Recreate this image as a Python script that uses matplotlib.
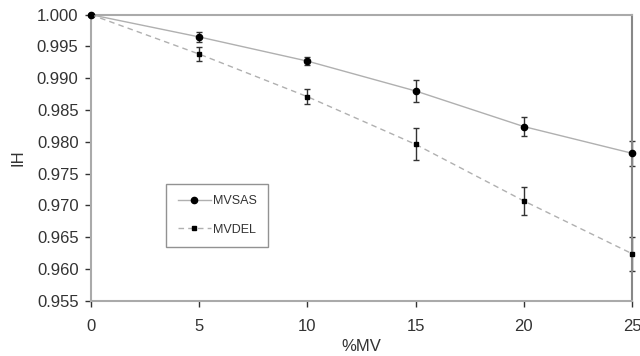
import matplotlib
matplotlib.use('Agg')
import matplotlib.pyplot as plt

mv = [0, 5, 10, 15, 20, 25]
mvsas = [1.000, 0.9965, 0.9927, 0.9880, 0.9824, 0.9782]
mvsas_err = [0.0, 0.0008, 0.0006, 0.0018, 0.0015, 0.0020]
mvdel = [1.000, 0.9938, 0.9871, 0.9796, 0.9707, 0.9624]
mvdel_err = [0.0, 0.0011, 0.0012, 0.0025, 0.0022, 0.0027]

plt.rcParams['font.family'] = ['Liberation Sans', 'DejaVu Sans']

fig = plt.figure(figsize=(6.4, 3.56), dpi=100)
ax = fig.add_axes([91 / 640, 1 - 300.7 / 356, (632 - 91) / 640, (300.7 - 14.7) / 356])

# error bars first, then the lines and markers on top
ax.errorbar(mv, mvsas, yerr=mvsas_err, fmt='none', ecolor='#333333',
            elinewidth=1, capsize=2.3, capthick=1, clip_on=False)
ax.errorbar(mv, mvdel, yerr=mvdel_err, fmt='none', ecolor='#333333',
            elinewidth=1, capsize=2.3, capthick=1, clip_on=False)
ax.plot(mv, mvsas, color='#b0b0b0', lw=1, marker='o', ms=4.5,
        mfc='black', mec='black', label='MVSAS', clip_on=False, zorder=3)
ax.plot(mv, mvdel, color='#b0b0b0', lw=1, ls=(0, (4, 3)), marker='s', ms=3.5,
        mfc='black', mec='black', label='MVDEL', clip_on=False, zorder=3)

ax.set_xlim(0, 25)
ax.set_ylim(0.955, 1.000)
ax.set_xticks([0, 5, 10, 15, 20, 25])
ax.set_yticks([0.955, 0.960, 0.965, 0.970, 0.975, 0.980, 0.985, 0.990, 0.995, 1.000])
ax.set_yticklabels(['%.3f' % v for v in ax.get_yticks()])
ax.tick_params(labelsize=12, colors='#333333', length=4, width=1)
ax.tick_params(axis='y', pad=5)
ax.tick_params(axis='x', pad=9)
for s in ax.spines.values():
    s.set_color('#aaaaaa')
    s.set_linewidth(1.5)
ax.spines['right'].set_color('#888888')

ax.set_xlabel('%MV', fontsize=12, color='#333333', labelpad=4)
ax.set_ylabel('IH', fontsize=12, color='#333333', labelpad=8)

leg = ax.legend(loc='upper left', bbox_to_anchor=((160 - 91) / 541, (300.7 - 178) / 286),
                fontsize=9, frameon=True, fancybox=False, borderpad=0.9,
                labelspacing=1.3, handlelength=2.7, handletextpad=0.1,
                edgecolor='#777777')
leg.get_frame().set_linewidth(1)
for t in leg.get_texts():
    t.set_color('#333333')

fig.savefig('out.png', dpi=100)
